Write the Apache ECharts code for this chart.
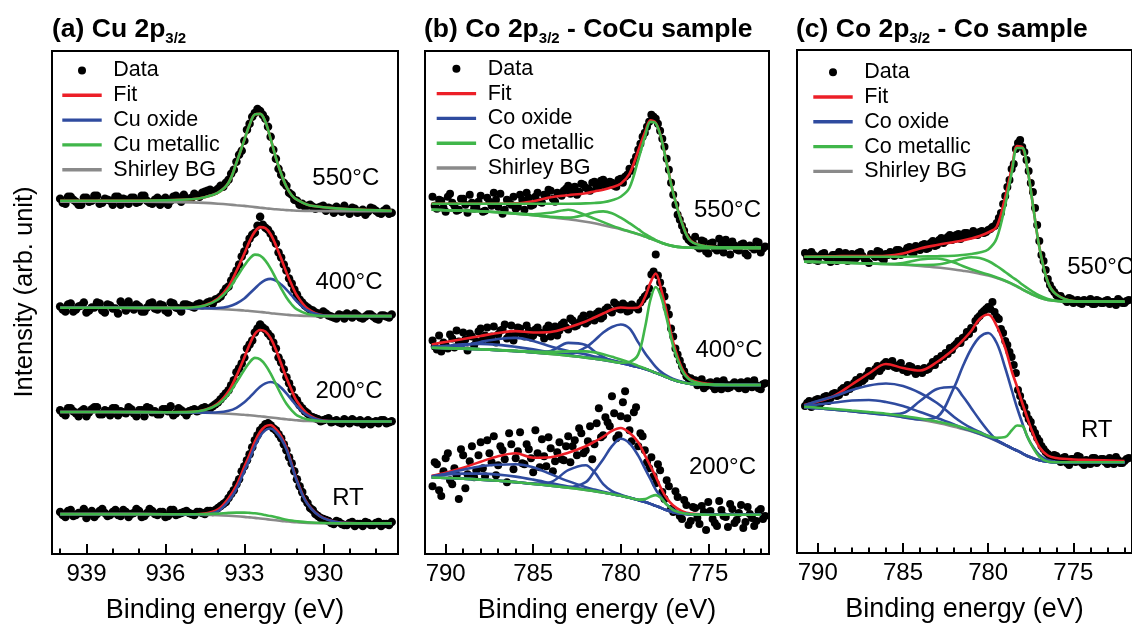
<!DOCTYPE html>
<html>
<head>
<meta charset="utf-8">
<script src="https://cdn.jsdelivr.net/npm/echarts@6/dist/echarts.min.js"></script>
<style>html,body{margin:0;padding:0;background:#fff;}#chart{width:1132px;height:629px;}</style>
</head>
<body>
<div id="chart"></div>
<script>
// ---------------- tick values / labels ----------------
const ticksA = [928, 929, 930, 931, 932, 933, 934, 935, 936, 937, 938, 939, 940];
const labelsA = [930, 933, 936, 939];
const ticksBC = [772, 773, 774, 775, 776, 777, 778, 779, 780, 781, 782, 783, 784, 785, 786, 787, 788, 789, 790];
const labelsBC = [775, 780, 785, 790];

// ---------------- energies (eV) ----------------
const eDataA = [940.0, 939.8, 939.6, 939.4, 939.2, 939.0, 938.8, 938.6, 938.4, 938.2, 938.0, 937.8, 937.6, 937.4, 937.2, 937.0, 936.8, 936.6, 936.4, 936.2, 936.0, 935.8, 935.6, 935.4, 935.2,
  935.0, 934.8, 934.6, 934.4, 934.2, 934.0, 933.8, 933.6, 933.4, 933.2, 933.0, 932.8, 932.6, 932.4, 932.2, 932.0, 931.8, 931.6, 931.4, 931.2, 931.0, 930.8, 930.6, 930.4, 930.2, 930.0,
  929.8, 929.6, 929.4, 929.2, 929.0, 928.8, 928.6, 928.4, 928.2, 928.0, 927.8, 927.6, 927.4];
const eDataAH = [939.9, 939.7, 939.5, 939.3, 939.1, 938.9, 938.7, 938.5, 938.3, 938.1, 937.9, 937.7, 937.5, 937.3, 937.1, 936.9, 936.7, 936.5, 936.3, 936.1, 935.9, 935.7, 935.5, 935.3,
  935.1, 934.9, 934.7, 934.5, 934.3, 934.1, 933.9, 933.7, 933.5, 933.3, 933.1, 932.9, 932.7, 932.5, 932.3, 932.1, 931.9, 931.7, 931.5, 931.3, 931.1, 930.9, 930.7, 930.5, 930.3, 930.1,
  929.9, 929.7, 929.5, 929.3, 929.1, 928.9, 928.7, 928.5, 928.3, 928.1, 927.9, 927.7, 927.5];
const eCurveA = [940.0, 938, 936, 935, 934.5, 934, 933.6, 933.3, 933, 932.8, 932.6, 932.4, 932.2, 932, 931.8, 931.6, 931.4, 931.2, 931, 930.6, 930, 929, 927.4];
const eDataBC = [790.75, 790.5, 790.25, 790, 789.75, 789.5, 789.25, 789, 788.75, 788.5, 788.25, 788, 787.75, 787.5, 787.25, 787, 786.75, 786.5, 786.25, 786,
  785.75, 785.5, 785.25, 785, 784.75, 784.5, 784.25, 784, 783.75, 783.5, 783.25, 783, 782.75, 782.5, 782.25, 782, 781.75, 781.5, 781.25, 781,
  780.75, 780.5, 780.25, 780, 779.75, 779.5, 779.25, 779, 778.75, 778.5, 778.25, 778, 777.75, 777.5, 777.25, 777, 776.75, 776.5, 776.25, 776,
  775.75, 775.5, 775.25, 775, 774.75, 774.5, 774.25, 774, 773.75, 773.5, 773.25, 773, 772.75, 772.5, 772.25, 772, 771.75];
const eDataBCH = [790.625, 790.375, 790.125, 789.875, 789.625, 789.375, 789.125, 788.875, 788.625, 788.375, 788.125, 787.875, 787.625, 787.375, 787.125, 786.875, 786.625, 786.375, 786.125, 785.875,
  785.625, 785.375, 785.125, 784.875, 784.625, 784.375, 784.125, 783.875, 783.625, 783.375, 783.125, 782.875, 782.625, 782.375, 782.125, 781.875, 781.625, 781.375, 781.125, 780.875,
  780.625, 780.375, 780.125, 779.875, 779.625, 779.375, 779.125, 778.875, 778.625, 778.375, 778.125, 777.875, 777.625, 777.375, 777.125, 776.875, 776.625, 776.375, 776.125, 775.875,
  775.625, 775.375, 775.125, 774.875, 774.625, 774.375, 774.125, 773.875, 773.625, 773.375, 773.125, 772.875, 772.625, 772.375, 772.125, 771.875];
const eCurveBC = [790.8, 790, 789, 788, 787, 786, 785, 784, 783, 782, 781.5, 781, 780.5, 780, 779.5, 779, 778.6, 778.3, 778, 777.7, 777.4, 777, 776.5, 776, 775, 774, 772];

// ---------------- (a) Cu 2p3/2 ----------------
const a550Data = [356, 351, 358, 353, 350, 357, 354, 359, 352, 355, 350, 358, 356, 351, 357, 353, 359, 352, 355, 350, 357, 354, 359, 353, 356,
  357, 359, 362, 364, 363, 366, 368, 375, 385, 400, 414, 431, 442, 444, 436, 418, 396, 380, 369, 360, 354, 351, 349, 348, 347, 349,
  347, 342, 345, 349, 341, 346, 343, 340, 347, 344, 341, 346, 342];
const a550DataH = [352, 358, 355, 350, 357, 353, 359, 351, 356, 354, 358, 350, 355, 357, 352, 359, 354, 351, 357, 355, 350, 358, 356, 360,
  356, 361, 358, 363, 365, 364, 369, 372, 381, 393, 404, 425, 438, 446, 440, 428, 405, 386, 372, 362, 355, 350, 348, 350, 346, 348,
  344, 346, 348, 343, 345, 347, 342, 345, 343, 346, 342, 344, 341];
const a550Bg = [353, 353, 352.8, 352.3, 351.8, 351, 350.2, 349.5, 348.8, 348.2, 347.6, 347, 346.4, 345.9, 345.4, 345, 344.6, 344.3, 344, 343.8, 343.6, 343.5, 343.5];
const a550Met = [354, 354, 354.5, 355.5, 357.5, 362, 372, 392, 415, 430, 440.5, 441, 433, 416, 397, 381, 368, 359.5, 355, 350, 347.5, 345.5, 344];
const a550Fit = [354, 354, 354.5, 355.5, 357.5, 362, 372, 392, 415, 430, 440.5, 441, 433, 416, 397, 381, 368, 359.5, 355, 350, 347.5, 345.5, 344];

const a400Data = [248, 243, 251, 245, 249, 242, 247, 252, 244, 250, 246, 241, 249, 253, 245, 248, 243, 251, 246, 250, 244, 252, 247, 243, 250,
  248, 250, 249, 252, 251, 256, 262, 268, 279, 290, 303, 316, 322, 338, 327, 321, 311, 297, 284, 271, 260, 252, 247, 244, 241, 243,
  239, 237, 240, 236, 239, 241, 237, 238, 240, 236, 239, 238, 240];
const a400DataH = [245, 250, 243, 248, 252, 244, 247, 251, 242, 249, 246, 253, 244, 248, 250, 243, 247, 252, 245, 249, 242, 251, 246, 250,
  249, 247, 251, 250, 253, 255, 258, 266, 274, 284, 298, 310, 320, 329, 330, 325, 316, 302, 290, 276, 265, 255, 249, 245, 242, 240,
  241, 238, 236, 239, 241, 237, 239, 236, 240, 238, 235, 239, 237];
const a400Bg = [246.7, 246.7, 246.5, 246.3, 246, 245.5, 245, 244.5, 244, 243.5, 243, 242.5, 242, 241.3, 240.8, 240.3, 239.8, 239.3, 239, 238.5, 238.3, 238.3, 238.3];
const a400Met = [246.7, 246.7, 246.6, 247, 249, 255, 265, 277, 289, 296, 300, 299, 294, 286, 276, 266, 257, 250, 245, 240.5, 238.5, 238.3, 238.3];
const a400Ox = [246.7, 246.7, 246.5, 246.3, 246.2, 246.5, 248, 251, 256, 261, 266, 271, 274.5, 275.7, 274, 270, 265, 259, 253, 244, 239, 238.3, 238.3];
const a400Fit = [246.7, 246.7, 246.6, 247, 249.2, 256, 268, 283.5, 301, 313.5, 323, 327.5, 326.5, 320.4, 309.2, 296, 282.2, 269.7, 259, 246, 239.2, 238.3, 238.3];

const a200Data = [144, 139, 146, 141, 143, 138, 145, 147, 140, 143, 146, 139, 142, 147, 141, 144, 138, 146, 143, 140, 145, 148, 141, 144, 139,
  144, 143, 146, 145, 148, 152, 158, 164, 174, 186, 197, 210, 222, 230, 225, 218, 206, 192, 177, 165, 154, 146, 141, 137, 135, 134,
  136, 133, 132, 135, 131, 133, 134, 132, 130, 133, 134, 131, 133];
const a200DataH = [141, 146, 143, 138, 145, 142, 147, 140, 144, 139, 146, 143, 141, 145, 138, 144, 147, 142, 140, 145, 143, 139, 146, 142,
  143, 145, 144, 147, 146, 150, 155, 161, 169, 182, 191, 206, 214, 226, 227, 221, 212, 197, 185, 171, 157, 149, 143, 138, 136, 133,
  135, 132, 134, 131, 133, 135, 132, 130, 134, 132, 131, 134, 132];
const a200Bg = [142.3, 142.3, 142, 141.8, 141.5, 141, 140.5, 140, 139.5, 139, 138.5, 138, 137.4, 136.8, 136.2, 135.6, 135, 134.5, 134, 133.3, 132.8, 132.7, 132.7];
const a200Met = [142.3, 142.3, 142.1, 142.4, 144.3, 150, 160, 172, 184.5, 192, 196.5, 195, 189.4, 180.8, 170.2, 159.6, 150.5, 144, 139, 134.9, 133, 132.7, 132.7];
const a200Ox = [142.3, 142.3, 142, 141.8, 141.7, 142, 143.5, 146.5, 152, 157, 162.5, 167.5, 170.9, 172.3, 170.7, 166.6, 161, 154.5, 148, 138.8, 133.5, 132.7, 132.7];
const a200Fit = [142.3, 142.3, 142.1, 142.4, 144.5, 151, 163, 178.5, 197, 210, 220.5, 224.5, 222.9, 216.3, 204.7, 190.6, 176.5, 164, 153, 140.4, 133.7, 132.7, 132.7];

const aRTData = [42, 37, 44, 39, 41, 36, 43, 40, 45, 38, 42, 39, 44, 37, 41, 43, 38, 45, 40, 42, 37, 44, 39, 41, 43,
  40, 42, 41, 43, 42, 46, 50, 56, 64, 75, 88, 100, 114, 124, 130, 129, 124, 116, 104, 91, 75, 62, 51, 44, 38, 35,
  33, 30, 32, 29, 31, 28, 30, 32, 29, 31, 28, 30, 32];
const aRTDataH = [39, 43, 38, 41, 45, 40, 37, 43, 41, 39, 44, 38, 42, 40, 45, 37, 41, 43, 39, 42, 38, 44, 40, 42,
  41, 39, 42, 40, 43, 44, 48, 52, 60, 70, 83, 94, 107, 119, 127, 131, 126, 120, 110, 97, 83, 68, 55, 46, 40, 36,
  34, 31, 33, 30, 29, 32, 30, 28, 31, 29, 32, 30, 29];
const aRTBg = [40, 40, 39.8, 39.5, 39.2, 38.8, 38.3, 37.8, 37.2, 36.7, 36.2, 35.6, 35, 34.4, 33.8, 33.2, 32.7, 32.2, 31.8, 31.2, 30.8, 30.7, 30.7];
const aRTMet = [40, 40, 39.9, 39.8, 40, 40.5, 41.2, 41.5, 41.5, 41.2, 40.8, 40, 39, 38, 36.8, 35.6, 34.4, 33.5, 32.8, 31.8, 31, 30.7, 30.7];
const aRTOx = [40, 40, 39.8, 39.6, 39.8, 43, 53, 65, 83, 95, 108, 118, 124, 125.7, 122, 115.5, 105, 89, 73, 50, 36, 31, 30.7];
const aRTFit = [40, 40, 39.9, 39.9, 40.6, 44.7, 55.9, 68.7, 87.3, 99.5, 112.6, 122.4, 128, 129.3, 125, 117.9, 106.7, 90.3, 74, 50.6, 36.2, 31, 30.7];

// ---------------- (b) Co 2p3/2 - CoCu sample ----------------
const b550Data = [358, 346, 354, 343, 361, 349, 345, 356, 342, 352, 347, 359, 344, 353, 362, 348, 341, 355, 350, 346,
  360, 345, 357, 350, 362, 352, 359, 364, 353, 361, 364, 369, 366, 360, 371, 367, 364, 373, 368, 375,
  370, 372, 368, 376, 378, 386, 393, 405, 418, 428, 440, 436, 424, 408, 385, 360, 340, 329, 318, 313,
  318, 306, 313, 301, 312, 304, 310, 315, 300, 309, 304, 311, 299, 307, 313, 302, 308];
const b550DataH = [349, 355, 347, 358, 352, 344, 356, 350, 360, 346, 353, 343, 357, 349, 355, 361, 345, 352, 358, 348,
  355, 362, 349, 358, 353, 360, 365, 356, 362, 359, 366, 361, 368, 363, 370, 366, 372, 367, 374, 369,
  373, 369, 375, 372, 380, 384, 398, 411, 422, 433, 438, 431, 416, 396, 372, 350, 335, 324, 315, 311,
  308, 314, 303, 311, 306, 316, 302, 309, 313, 305, 310, 301, 309, 305, 312, 306];
const b550Bg = [345, 344.5, 344, 343.5, 342.5, 341, 339.5, 337.5, 335.5, 333, 331.5, 329.5, 327.5, 325.5, 323, 320.5, 318, 316, 314, 312, 310.2, 308.5, 307.3, 306.9, 306.7, 306.7, 306.7];
const b550Fit = [351, 351, 351, 351, 351, 351.3, 353.5, 357.5, 359.5, 361.5, 363.3, 365, 367.5, 371, 381, 404, 423, 434.5, 432, 418, 394, 362, 332, 314, 308, 307, 306.7];
const b550Met1 = [351, 351, 351, 351, 351, 351, 351, 351, 351, 351.3, 351.7, 352.5, 354.5, 358, 367, 395, 419, 433, 431.5, 417.5, 393.5, 361.5, 331.5, 313.5, 308, 307, 306.7];
const b550Met2 = [345, 344.5, 344, 343.5, 342.5, 341.2, 340.5, 342, 345, 339.5, 336, 332.5, 329, 326, 323.2, 320.5, 318, 316, 314, 312, 310.2, 308.5, 307.3, 306.9, 306.7, 306.7, 306.7];
const b550Met3 = [345, 344.5, 344, 343.5, 342.5, 341, 339.5, 337.8, 337, 340, 342.5, 343.3, 341.5, 337, 331.5, 325.5, 320.5, 317.5, 314.5, 312.2, 310.3, 308.5, 307.3, 306.9, 306.7, 306.7, 306.7];

const b400Data = [214, 205, 203, 209, 220, 207, 213, 222, 204, 218, 213, 226, 219, 214, 228, 220, 225, 216, 229, 221,
  226, 218, 224, 219, 227, 221, 226, 218, 228, 224, 232, 225, 234, 229, 236, 231, 240, 234, 243, 238,
  247, 242, 250, 245, 249, 244, 248, 245, 255, 260, 280, 300, 272, 258, 240, 218, 200, 188, 178, 176,
  174, 172, 166, 171, 168, 173, 165, 170, 167, 172, 166, 170, 173, 167, 169, 165, 171];
const b400DataH = [208, 219, 212, 206, 216, 224, 210, 215, 221, 209, 223, 215, 227, 218, 212, 224, 230, 219, 214, 227,
  220, 229, 217, 225, 222, 216, 229, 223, 219, 230, 227, 236, 228, 232, 239, 233, 237, 241, 236, 245,
  244, 252, 246, 251, 243, 250, 247, 252, 258, 266, 283, 279, 264, 247, 226, 206, 194, 183, 176, 174,
  169, 175, 168, 172, 165, 171, 174, 166, 170, 168, 172, 165, 169, 174, 166, 170];
const b400Bg = [206.7, 206.3, 205.8, 205.2, 204.3, 203.3, 202, 200.5, 198.8, 196.8, 195.7, 194.5, 193, 191.5, 189.5, 187.3, 185.3, 183.5, 181.5, 179.5, 177.3, 174.5, 172, 170.5, 169.7, 169.4, 169.3];
const b400Fit = [210, 212.5, 215.5, 218.5, 221.5, 223.3, 222, 222.5, 227, 233, 237, 241, 245, 247, 246.5, 247, 258, 272, 281, 266, 244, 212, 186, 175, 170.5, 169.6, 169.4];
const b400Met1 = [206.7, 206.3, 205.8, 205.2, 204.3, 203.3, 202, 200.5, 198.8, 196.8, 195.7, 194.5, 193, 191.6, 192.5, 200, 228, 255, 267.5, 258, 238, 208, 184, 174, 170, 169.4, 169.3];
const b400Met2 = [206.7, 206.3, 205.8, 205.2, 204.4, 203.6, 202.8, 202.5, 203, 203, 202, 200.2, 197.6, 195, 192, 188.5, 185.8, 183.7, 181.5, 179.5, 177.3, 174.5, 172, 170.5, 169.7, 169.4, 169.3];
const b400Ox1 = [206.7, 206.3, 205.8, 205.2, 204.3, 203.3, 202, 200.6, 200.5, 207, 214, 222, 227.5, 230, 226, 212, 201, 194, 187.5, 182.5, 179, 175.5, 172.5, 170.7, 169.7, 169.4, 169.3];
const b400Ox2 = [206.7, 206.3, 205.8, 205.2, 204.3, 203.4, 202.3, 203.5, 211.5, 209.5, 203, 197.5, 193.8, 191.5, 189.5, 187.3, 185.3, 183.5, 181.5, 179.5, 177.3, 174.5, 172, 170.5, 169.7, 169.4, 169.3];
const b400Ox3 = [207, 207.5, 208.8, 212.5, 215.5, 216.6, 213.5, 208, 203.5, 200, 198, 196, 194, 192, 189.5, 187.3, 185.3, 183.5, 181.5, 179.5, 177.3, 174.5, 172, 170.5, 169.7, 169.4, 169.3];
const b400Ox4 = [207.5, 208.5, 210, 210.5, 209.5, 207.5, 205, 202, 199.3, 197, 195.8, 194.5, 193, 191.5, 189.5, 187.3, 185.3, 183.5, 181.5, 179.5, 177.3, 174.5, 172, 170.5, 169.7, 169.4, 169.3];

const b200Data = [68, 90, 58, 96, 74, 86, 55, 99, 80, 108, 84, 112, 78, 101, 118, 89, 104, 72, 110, 96,
  122, 90, 105, 82, 101, 115, 88, 106, 93, 112, 94, 118, 108, 99, 121, 104, 128, 110, 146, 119,
  132, 158, 116, 138, 163, 124, 142, 108, 118, 92, 97, 71, 84, 55, 68, 42, 57, 35, 49, 33,
  46, 30, 42, 52, 35, 28, 44, 37, 50, 31, 41, 26, 47, 36, 33, 45, 38];
const b200DataH = [92, 64, 83, 101, 70, 79, 105, 66, 93, 77, 99, 86, 114, 92, 79, 108, 95, 121, 85, 103,
  91, 110, 96, 124, 87, 98, 117, 83, 102, 95, 108, 92, 114, 126, 101, 113, 95, 131, 117, 137,
  128, 141, 119, 152, 136, 113, 147, 121, 104, 86, 78, 90, 62, 74, 45, 63, 38, 54, 29, 47,
  36, 48, 24, 43, 31, 53, 38, 27, 45, 34, 49, 32, 40, 28, 43, 35];
const b200Bg = [76.7, 76.2, 75.5, 74.5, 73.4, 72, 70.3, 68.5, 66.5, 64.2, 63, 61.6, 60, 58.3, 56.3, 54, 52, 50.2, 48.2, 46.2, 44, 41.8, 40.3, 39.7, 39.4, 39.3, 39.3];
const b200Fit = [78.5, 81.5, 86.5, 92.5, 98, 101, 96.5, 97, 101.5, 108, 112.5, 117.5, 123.5, 126.3, 121.5, 112, 98.3, 88, 77.5, 66, 56.5, 48.5, 43, 40.5, 39.5, 39.3, 39.3];
const b200Met = [76.7, 76.2, 75.5, 74.5, 73.4, 72, 70.3, 68.5, 66.5, 64.2, 63, 61.6, 60, 58.3, 56.3, 54.5, 55, 57.5, 59, 56, 50, 44, 41, 39.8, 39.4, 39.3, 39.3];
const b200Ox1 = [76.7, 76.2, 75.5, 74.5, 73.4, 72, 70.3, 68.5, 67, 72, 83, 95, 108, 115.5, 111, 98.5, 85, 75, 64.5, 57, 50, 44.5, 41, 39.8, 39.4, 39.3, 39.3];
const b200Ox2 = [76.7, 76.2, 75.5, 74.5, 73.4, 72, 70.5, 72, 84, 89, 82, 70, 63, 59.5, 56.5, 54, 52, 50.2, 48.2, 46.2, 44, 41.8, 40.3, 39.7, 39.4, 39.3, 39.3];
const b200Ox3 = [77.8, 80.5, 84.5, 88, 89.5, 90, 87, 80, 73, 67, 64.5, 62.3, 60.3, 58.4, 56.3, 54, 52, 50.2, 48.2, 46.2, 44, 41.8, 40.3, 39.7, 39.4, 39.3, 39.3];
const b200Ox4 = [77.6, 79.5, 80.5, 80.5, 79.5, 77.5, 74.5, 71, 67.5, 64.7, 63.2, 61.7, 60, 58.3, 56.3, 54, 52, 50.2, 48.2, 46.2, 44, 41.8, 40.3, 39.7, 39.4, 39.3, 39.3];

// ---------------- (c) Co 2p3/2 - Co sample ----------------
const c550Data = [300, 293, 298, 292, 299, 296, 291, 298, 301, 294, 292, 299, 295, 301, 294, 290, 298, 302, 295, 299,
  301, 297, 303, 299, 305, 301, 307, 303, 309, 305, 312, 308, 315, 312, 318, 314, 319, 316, 320, 318,
  319, 321, 320, 323, 326, 330, 340, 357, 373, 389, 410, 406, 393, 370, 345, 312, 292, 274, 264, 258,
  257, 253, 255, 250, 253, 249, 252, 254, 249, 252, 250, 253, 251, 248, 252, 250, 253];
const c550DataH = [295, 301, 293, 297, 300, 294, 298, 292, 297, 300, 296, 293, 300, 297, 292, 299, 296, 301, 293, 298,
  299, 303, 298, 302, 306, 300, 304, 308, 304, 310, 307, 313, 310, 316, 313, 318, 314, 320, 317, 322,
  318, 322, 321, 324, 327, 335, 349, 366, 384, 404, 413, 401, 382, 361, 328, 298, 283, 268, 261, 255,
  254, 251, 254, 252, 250, 253, 251, 249, 253, 250, 252, 249, 251, 254, 250, 252];
const c550Bg = [291.3, 291, 290.5, 290, 289.5, 289, 288.2, 287, 285.5, 283.5, 282.3, 281, 279.3, 277.5, 275, 272, 269, 266.5, 263.7, 261, 258.4, 255.5, 253, 252, 251.5, 251.3, 251.3];
const c550Fit = [296.3, 296.5, 296.7, 297, 297, 297.3, 299.5, 304.5, 308, 311, 312.5, 314.5, 317, 320.5, 326.3, 356, 386, 407, 406, 384.7, 351.3, 306.3, 271.3, 258.7, 252, 251.5, 251.3];
const c550Met1 = [296.3, 296.3, 296.3, 296.3, 296.3, 296.3, 296.3, 296.5, 296.8, 297.3, 298, 299, 300.5, 303.5, 314.7, 348, 382, 405, 405, 384.5, 351, 306, 271, 258.5, 252, 251.5, 251.3];
const c550Met2 = [291.3, 291, 290.5, 290, 289.5, 289, 290, 293.5, 294.5, 290.5, 287, 283.8, 281, 278.5, 275.5, 272.3, 269.2, 266.6, 263.7, 261, 258.4, 255.5, 253, 252, 251.5, 251.3, 251.3];
const c550Met3 = [291.3, 291, 290.5, 290, 289.5, 289, 288.5, 288, 288.5, 292, 294.5, 295.8, 295, 292, 287, 281, 276, 272.5, 268.5, 265, 261.5, 257.5, 254, 252.3, 251.5, 251.3, 251.3];

const cRTData = [147, 152, 148, 154, 151, 157, 155, 160, 158, 165, 168, 166, 173, 176, 174, 182, 180, 187, 185, 191,
  190, 186, 188, 183, 181, 186, 179, 181, 185, 184, 191, 194, 197, 200, 205, 207, 212, 215, 221, 225,
  232, 237, 242, 246, 251, 236, 224, 212, 201, 188, 163, 150, 139, 131, 120, 112, 104, 99, 96, 97,
  91, 96, 88, 94, 97, 90, 93, 89, 95, 92, 94, 89, 93, 96, 90, 92, 95];
const cRTDataH = [150, 146, 153, 149, 156, 152, 159, 157, 163, 161, 164, 170, 169, 172, 178, 177, 184, 182, 189, 187,
  192, 185, 190, 184, 187, 182, 184, 180, 183, 187, 188, 193, 196, 199, 203, 209, 210, 216, 219, 224,
  235, 240, 244, 244, 241, 234, 220, 208, 196, 180, 157, 146, 134, 124, 115, 107, 101, 95, 98, 93,
  95, 90, 94, 91, 96, 88, 92, 95, 90, 94, 91, 95, 89, 93, 90, 94];
const cRTBg = [145.7, 144.7, 143.3, 141.7, 140, 138.3, 135.8, 133.3, 130.2, 126.3, 124, 121.7, 119, 115.7, 112, 108, 104.7, 102.3, 99.7, 97, 95, 92.7, 91.3, 90.7, 90.7, 90.7, 90.7];
const cRTFit = [148, 151.5, 157.5, 168.5, 179.5, 189, 185, 182.5, 191, 204, 212.5, 222, 234, 238.5, 227, 205, 181, 166, 150, 135, 121, 106, 97.5, 95, 93.5, 93, 92];
const cRTMet = [146.3, 145.3, 144, 142.5, 141, 139.3, 137, 134.5, 131.5, 127.8, 125.5, 123, 120.3, 117, 115.3, 116, 123, 127.5, 127, 116.3, 106.3, 96.3, 91.5, 90.8, 90.7, 90.7, 90.7];
const cRTOx1 = [145.7, 144.7, 143.3, 141.7, 140, 138.3, 135.9, 133.5, 136, 165.7, 186.3, 204, 216, 220, 210, 185, 162, 145, 130, 116.3, 107, 98, 93, 91.2, 90.7, 90.7, 90.7];
const cRTOx2 = [145.7, 144.7, 143.3, 141.7, 140, 138.5, 140, 152, 164, 166, 157, 145, 133, 122, 113, 108.2, 104.7, 102.3, 99.7, 97, 95, 92.7, 91.3, 90.7, 90.7, 90.7, 90.7];
const cRTOx3 = [147.5, 152, 157, 163, 167.5, 169.5, 167, 160, 150, 136, 130, 125, 121, 117, 112.7, 108.2, 104.7, 102.3, 99.7, 97, 95, 92.7, 91.3, 90.7, 90.7, 90.7, 90.7];
const cRTOx4 = [147, 148.5, 150.5, 152.5, 153, 151, 147, 141, 135, 128.5, 125, 122.3, 119.3, 116, 112.2, 108.1, 104.7, 102.3, 99.7, 97, 95, 92.7, 91.3, 90.7, 90.7, 90.7, 90.7];

// ---------------- style ----------------
const FONT = "'Liberation Sans', Arial, Helvetica, sans-serif";
const RED = '#ec1f27', BLUE = '#2f4b9f', GREEN = '#40b64a', GRAY = '#8a8a8a', BLACK = '#000';
const LINE_ICON = 'path://M0,0H40V3.5H0Z';
const DOT_SIZE = [8.5, 8, 8];

function pairs(xs, ys) { return xs.map((x, i) => [x, ys[i]]); }
const series = [];
function dots(gi, xs, ys, xs2, ys2) {
  series.push({ type: 'scatter', name: 'Data', xAxisIndex: gi * 2, yAxisIndex: gi,
    data: pairs(xs, ys).concat(pairs(xs2, ys2)),
    symbol: 'circle', symbolSize: DOT_SIZE[gi], color: BLACK, itemStyle: { color: BLACK, opacity: 1 }, z: 2, silent: true });
}
function curve(gi, name, xs, ys, color, z) {
  series.push({ type: 'line', name: name, xAxisIndex: gi * 2, yAxisIndex: gi, data: pairs(xs, ys),
    symbol: 'none', showSymbol: false, smooth: 0.35, color: color, itemStyle: { color: color },
    lineStyle: { color: color, width: 2.6 }, z: z, silent: true });
}
function spectrum(gi, eD, data, eDH, dataH, eC, fit, oxList, metList, bg, oxName, metName) {
  dots(gi, eD, data, eDH, dataH);
  curve(gi, 'Fit', eC, fit, RED, 3);
  curve(gi, 'Shirley BG', eC, bg, GRAY, 4);
  oxList.forEach(o => curve(gi, oxName, eC, o, BLUE, 5));
  metList.forEach(m => curve(gi, metName, eC, m, GREEN, 6));
}

spectrum(0, eDataA, a550Data, eDataAH, a550DataH, eCurveA, a550Fit, [], [a550Met], a550Bg, 'Cu oxide', 'Cu metallic');
spectrum(0, eDataA, a400Data, eDataAH, a400DataH, eCurveA, a400Fit, [a400Ox], [a400Met], a400Bg, 'Cu oxide', 'Cu metallic');
spectrum(0, eDataA, a200Data, eDataAH, a200DataH, eCurveA, a200Fit, [a200Ox], [a200Met], a200Bg, 'Cu oxide', 'Cu metallic');
spectrum(0, eDataA, aRTData, eDataAH, aRTDataH, eCurveA, aRTFit, [aRTOx], [aRTMet], aRTBg, 'Cu oxide', 'Cu metallic');

spectrum(1, eDataBC, b550Data, eDataBCH, b550DataH, eCurveBC, b550Fit, [], [b550Met1, b550Met2, b550Met3], b550Bg, 'Co oxide', 'Co metallic');
spectrum(1, eDataBC, b400Data, eDataBCH, b400DataH, eCurveBC, b400Fit, [b400Ox1, b400Ox2, b400Ox3, b400Ox4], [b400Met1, b400Met2], b400Bg, 'Co oxide', 'Co metallic');
spectrum(1, eDataBC, b200Data, eDataBCH, b200DataH, eCurveBC, b200Fit, [b200Ox1, b200Ox2, b200Ox3, b200Ox4], [b200Met], b200Bg, 'Co oxide', 'Co metallic');

spectrum(2, eDataBC, c550Data, eDataBCH, c550DataH, eCurveBC, c550Fit, [], [c550Met1, c550Met2, c550Met3], c550Bg, 'Co oxide', 'Co metallic');
spectrum(2, eDataBC, cRTData, eDataBCH, cRTDataH, eCurveBC, cRTFit, [cRTOx1, cRTOx2, cRTOx3, cRTOx4], [cRTMet], cRTBg, 'Co oxide', 'Co metallic');

// ---------------- axes ----------------
function xAxes(gi, min, max, ticks, labels) {
  const tickLine = { color: BLACK, width: 2 };
  return [
    { gridIndex: gi, type: 'value', min: min, max: max, inverse: true, position: 'bottom',
      axisLine: { show: false, onZero: false }, splitLine: { show: false },
      axisTick: { show: true, inside: true, length: 10, customValues: labels, lineStyle: tickLine },
      axisLabel: { show: true, customValues: labels, margin: 8, fontSize: 24, color: BLACK, fontFamily: FONT },
      name: 'Binding energy (eV)', nameLocation: 'middle', nameGap: 43,
      nameTextStyle: { fontSize: 27, color: BLACK, fontFamily: FONT } },
    { gridIndex: gi, type: 'value', min: min, max: max, inverse: true, position: 'bottom',
      axisLine: { show: false, onZero: false }, splitLine: { show: false },
      axisTick: { show: true, inside: true, length: 5.5, customValues: ticks, lineStyle: tickLine },
      axisLabel: { show: false } }
  ];
}
const xAxis = [].concat(
  xAxes(0, 927.16, 940.31, ticksA, labelsA),
  xAxes(1, 771.53, 791.18, ticksBC, labelsBC),
  xAxes(2, 771.56, 791.22, ticksBC, labelsBC)
);
const yAxis = [
  { gridIndex: 0, type: 'value', min: 0, max: 504, show: false },
  { gridIndex: 1, type: 'value', min: 0, max: 504, show: false },
  { gridIndex: 2, type: 'value', min: 0, max: 503, show: false }
];
const gridStyle = { show: true, borderColor: BLACK, borderWidth: 2, backgroundColor: 'transparent' };
const grid = [
  Object.assign({ left: 52, top: 51, width: 346, height: 504 }, gridStyle),
  Object.assign({ left: 425, top: 51, width: 344, height: 504 }, gridStyle),
  Object.assign({ left: 797, top: 50, width: 344, height: 503 }, gridStyle)
];

// ---------------- titles & legends ----------------
const richTitle = {
  m: { fontSize: 26.5, fontWeight: 'bold', fontFamily: FONT, color: BLACK, lineHeight: 32, verticalAlign: 'middle' },
  s: { fontSize: 15, fontWeight: 'bold', fontFamily: FONT, color: BLACK, lineHeight: 17, verticalAlign: 'bottom' }
};
const title = [
  { text: '{m|(a) Cu 2p}{s|3/2}', left: 52, top: 14, padding: 0, textStyle: { rich: richTitle } },
  { text: '{m|(b) Co 2p}{s|3/2}{m| - CoCu sample}', left: 424, top: 14, padding: 0, textStyle: { rich: richTitle } },
  { text: '{m|(c) Co 2p}{s|3/2}{m| - Co sample}', left: 796, top: 14, padding: 0, textStyle: { rich: richTitle } }
];
function legend(left, top, ox, met) {
  return { orient: 'vertical', left: left, top: top, padding: 0, itemWidth: 39.4, itemHeight: 8, itemGap: 2.8,
    selectedMode: false, itemStyle: { borderWidth: 0 },
    textStyle: { fontSize: 21.5, lineHeight: 21, color: BLACK, fontFamily: FONT, padding: [0, 0, 0, 6.6] },
    data: [ { name: 'Data', icon: 'circle' }, { name: 'Fit', icon: LINE_ICON }, { name: ox, icon: LINE_ICON },
            { name: met, icon: LINE_ICON }, { name: 'Shirley BG', icon: LINE_ICON } ] };
}
const legends = [
  legend(62.3, 59.5, 'Cu oxide', 'Cu metallic'),
  legend(436.7, 57.8, 'Co oxide', 'Co metallic'),
  legend(813.3, 61.2, 'Co oxide', 'Co metallic')
];

// ---------------- text annotations ----------------
function txt(s, x, y, size, rot) {
  return { type: 'text', x: x, y: y, rotation: rot || 0, silent: true, z: 100,
    style: { text: s, fontSize: size, fontFamily: FONT, fill: BLACK,
      align: 'center', verticalAlign: 'middle', textAlign: 'center', textVerticalAlign: 'middle' } };
}
const graphic = [
  txt('Intensity (arb. unit)', 25, 292, 25.5, Math.PI / 2),
  txt('550°C', 345.8, 178, 24), txt('400°C', 349, 282.5, 24), txt('200°C', 349, 391, 24), txt('RT', 348, 498.5, 24),
  txt('550°C', 727.5, 210, 24), txt('400°C', 729, 350, 24), txt('200°C', 722.5, 467.5, 24),
  txt('550°C', 1100.7, 267.5, 24), txt('RT', 1096.7, 430, 24)
];

const chart = echarts.init(document.getElementById('chart'), null, { renderer: 'canvas' });
chart.setOption({
  animation: false,
  backgroundColor: '#ffffff',
  textStyle: { fontFamily: FONT },
  title: title,
  legend: legends,
  grid: grid,
  xAxis: xAxis,
  yAxis: yAxis,
  series: series,
  graphic: graphic
});
</script>
</body>
</html>
